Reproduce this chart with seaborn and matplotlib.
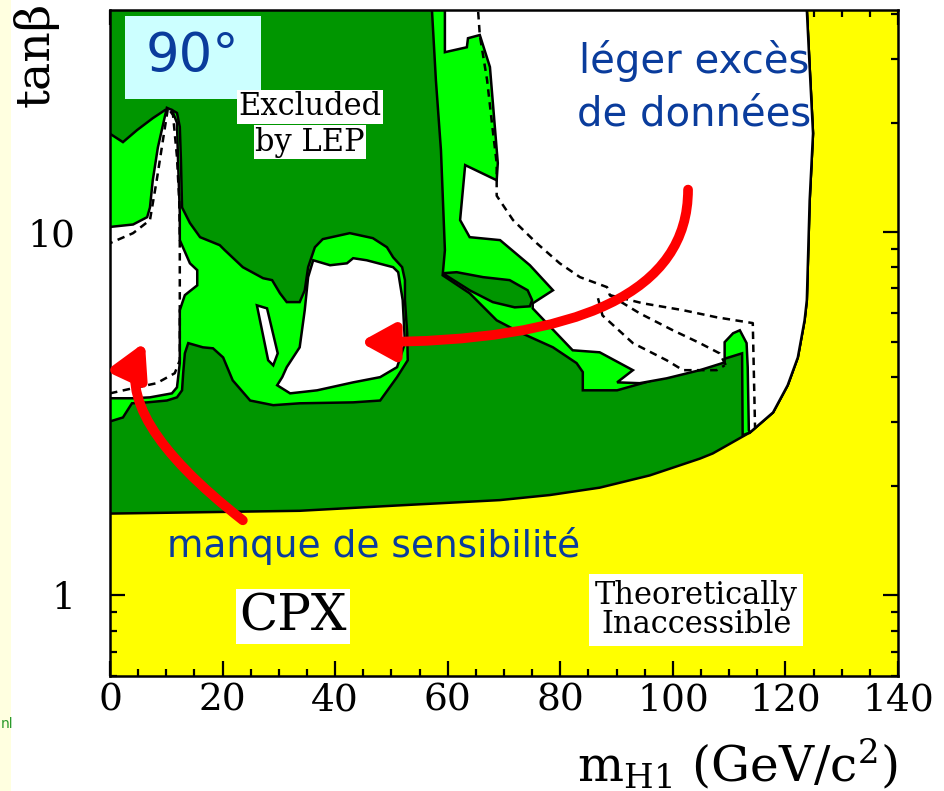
import numpy as np
import matplotlib
matplotlib.use('Agg')
import matplotlib.pyplot as plt
import seaborn as sns
from matplotlib.patches import Rectangle
from matplotlib.ticker import LogLocator, NullFormatter, MultipleLocator

# region boundaries: (m_H1 [GeV/c2], tan beta)
theory = [(-1, 1.68), (0, 1.68), (33.7, 1.71), (51.5, 1.77), (69.3, 1.83), (78.2, 1.89),
          (87.0, 1.98), (95.9, 2.14), (104.8, 2.38), (107.1, 2.46), (113.7, 2.81),
          (117.8, 3.19), (120.4, 3.79), (122.2, 4.52), (123.4, 5.72), (123.8, 6.50),
          (124.3, 12.2), (124.9, 18.7), (124.3, 28.5), (123.8, 40.9), (123.8, 45), (-1, 45)]

lg_right = [(57.2, 45), (57.2, 40.9), (57.9, 26.2), (58.8, 16.8), (59.5, 8.92), (59.1, 7.61),
            (63.9, 6.79), (68.7, 5.72), (72.8, 5.30), (78.7, 4.82), (82.9, 4.36), (84.0, 4.12),
            (84.0, 3.67), (90.1, 3.67), (96.4, 3.91), (102.5, 4.17), (108.3, 4.44), (112.3, 4.64),
            (112.4, 2.76), (113.7, 2.81), (117.8, 3.19), (120.4, 3.79), (122.2, 4.52),
            (123.4, 5.72), (123.8, 6.50), (124.3, 12.2), (124.9, 18.7), (124.3, 28.5),
            (123.8, 40.9), (123.8, 45)]

island = [(59.1, 7.71), (61.6, 7.76), (66.3, 7.52), (71.0, 7.38), (74.2, 6.92), (75.0, 6.50),
          (74.6, 6.25), (71.9, 6.21), (68.0, 6.42), (63.9, 6.92)]

w_right = [(59.5, 45), (123.8, 45), (123.8, 40.9), (124.3, 28.5), (124.9, 18.7), (124.3, 12.2),
           (123.8, 6.50), (123.4, 5.72), (122.2, 4.52), (120.4, 3.79), (117.8, 3.19),
           (113.7, 2.81), (113.5, 2.85), (113.3, 4.25), (113.1, 4.95), (111.9, 5.37),
           (110.7, 5.27), (109.2, 4.98), (109.2, 4.38), (104.8, 4.17), (98.9, 3.96), (94.1, 3.84),
           (90.1, 3.86), (92.9, 4.17), (87.0, 4.67), (82.2, 4.73), (75.1, 6.17), (75.1, 6.37),
           (78.7, 6.92), (74.6, 8.11), (69.3, 9.51), (63.9, 9.69), (62.2, 10.8), (63.1, 15.3),
           (68.7, 13.9), (68.9, 15.5), (67.5, 28.5), (65.7, 34.9), (63.6, 34.2), (63.4, 32.3),
           (59.5, 31.3)]

lg_left = [(-1, 19.1), (2.3, 17.7), (4.8, 19.1), (7.6, 20.6), (9.8, 21.7), (11.0, 21.7),
           (11.9, 21.3), (12.4, 19.5), (12.6, 15.8), (12.8, 11.7), (14.2, 10.6), (16.0, 9.69),
           (19.5, 9.21), (20.4, 8.92), (23.6, 8.01), (27.2, 7.47), (28.8, 7.38), (30.2, 6.79),
           (31.4, 6.42), (33.7, 6.42), (34.6, 6.92), (35.2, 8.01), (36.4, 9.09), (37.8, 9.57),
           (42.6, 9.94), (46.7, 9.63), (49.2, 9.09), (50.3, 8.53), (51.9, 8.01), (52.4, 7.38),
           (52.4, 6.50), (52.8, 5.27), (52.9, 4.44), (51.0, 3.99), (48.0, 3.44), (43.2, 3.40),
           (33.7, 3.38), (29.0, 3.34), (24.9, 3.44), (21.8, 3.91), (20.1, 4.52), (18.3, 4.79),
           (16.5, 4.82), (13.9, 4.95), (13.3, 4.64), (13.0, 4.09), (12.8, 3.67), (11.9, 3.51),
           (10.1, 3.44), (6.6, 3.40), (3.9, 3.38), (2.3, 3.09), (-1, 2.98)]

w_left = [(-1, 10.3), (4.1, 10.5), (6.6, 11.0), (7.1, 11.7), (7.6, 13.9), (8.5, 17.1),
          (9.8, 21.0), (10.1, 22.0), (11.0, 21.7), (11.9, 20.0), (12.1, 15.5), (12.4, 11.3),
          (12.4, 9.51), (14.2, 8.21), (15.5, 7.86), (15.5, 7.14), (13.3, 6.71), (12.4, 6.10),
          (12.4, 4.73), (12.4, 4.36), (11.9, 3.74), (11.0, 3.60), (7.1, 3.51), (4.1, 3.49),
          (-1, 3.49)]

w_mid = [(36.1, 8.37), (39.1, 8.11), (42.1, 8.21), (43.2, 8.48), (45.6, 8.37), (50.3, 8.01),
         (51.2, 7.76), (52.0, 6.50), (52.4, 4.95), (51.0, 4.25), (48.0, 3.99), (43.2, 3.86),
         (36.8, 3.67), (32.0, 3.60), (29.7, 3.79), (30.6, 3.99), (31.4, 4.25), (33.7, 4.82),
         (34.6, 6.10), (35.2, 7.52)]

w_sliver = [(26.1, 6.29), (27.9, 6.17), (29.8, 4.64), (29.0, 4.30), (28.1, 4.44)]

# dashed (expected) contours
dash_left = [(0, 3.60), (4.1, 3.72), (8.3, 3.84), (11.5, 4.09), (12.4, 4.44), (12.4, 6.50),
             (12.4, 9.51), (12.3, 12.2), (11.9, 16.1), (11.2, 21.0), (10.3, 22.0), (9.2, 17.1),
             (8.3, 13.9), (7.1, 10.8), (4.1, 9.94), (0, 9.33)]
dash_top = [(65.2, 45), (65.7, 34.9), (67.0, 26.2), (68.0, 19.1), (68.7, 15.5), (68.7, 12.6),
            (71.6, 10.8), (75.8, 9.33), (79.9, 8.21), (83.5, 7.52), (88.3, 7.06), (88.8, 6.71),
            (94.7, 6.37), (101.8, 6.10), (107.8, 5.83), (114.2, 5.62), (114.6, 2.90)]
dash_mid = [(88.8, 6.71), (94.1, 5.98), (100.0, 5.37), (104.8, 4.95), (108.3, 4.64), (109.6, 4.25)]
dash_low = [(86.7, 6.58), (87.5, 5.9), (92.9, 4.95), (98.9, 4.44), (101.8, 4.17), (107.8, 4.17),
            (109.2, 4.30)]

# arrows: (tail, tip) in data units
arrow_excess = ((102.7, 13.1), (44.4, 4.98))
arrow_sens = ((23.6, 1.61), (6.2, 4.98))

x_ticks = [0, 20, 40, 60, 80, 100, 120, 140]
y_ticks = [1, 10]
y_labels = ['1', '10']

YELLOW = '#ffff00'
DARK = '#009600'
LIGHT = '#00ff00'
BLUE = '#0a3c9c'

sns.set_style('ticks')
plt.rcParams['font.family'] = ['DejaVu Serif']
plt.rcParams['mathtext.fontset'] = 'dejavuserif'
plt.rcParams['text.color'] = 'black'
plt.rcParams['xtick.color'] = 'black'
plt.rcParams['ytick.color'] = 'black'
plt.rcParams['xtick.labelcolor'] = 'black'
plt.rcParams['ytick.labelcolor'] = 'black'

fig = plt.figure(figsize=(9.44, 7.91), dpi=100)
fig.patches.append(Rectangle((0, 0), 11 / 944, 1, transform=fig.transFigure,
                             facecolor='#ffffe0', edgecolor='none', zorder=0))
fig.text(1 / 944, 0.08, 'nl', color='#2a9a2a', fontsize=10, ha='left',
         family='DejaVu Sans')

ax = fig.add_axes([110 / 944, 115 / 791, 788 / 944, 666 / 791])
ax.set_facecolor(YELLOW)
ax.set_yscale('log')


def region(pts, color):
    xs, ys = zip(*pts)
    ax.fill(xs, ys, facecolor=color, edgecolor='black', linewidth=1.8)


region(theory, DARK)
region(lg_right, LIGHT)
region(island, DARK)
region(w_right, 'white')
region(lg_left, LIGHT)
region(w_left, 'white')
region(w_mid, 'white')
region(w_sliver, 'white')

for line in [dash_left, dash_top, dash_mid, dash_low]:
    xs, ys = zip(*line)
    sns.lineplot(x=list(xs), y=list(ys), sort=False, estimator=None, ax=ax,
                 color='black', linewidth=1.8, linestyle=(0, (3, 2.2)))

ax.set_xlim(0, 140)
ax.set_ylim(0.6, 40.9)
ax.set_xlabel('')
ax.set_ylabel('')

ax.set_xticks(x_ticks)
ax.set_xticklabels([str(v) for v in x_ticks])
ax.xaxis.set_minor_locator(MultipleLocator(5))
ax.set_yticks(y_ticks)
ax.set_yticklabels(y_labels)
ax.yaxis.set_minor_locator(LogLocator(base=10, subs=np.arange(2, 10)))
ax.yaxis.set_minor_formatter(NullFormatter())
ax.tick_params(which='both', direction='in', top=True, right=True, width=1.6, color='black')
ax.tick_params(which='major', length=11, labelsize=27)
ax.tick_params(which='minor', length=5)
ax.tick_params(axis='x', pad=5)
ax.tick_params(axis='y', pad=25)
for s in ax.spines.values():
    s.set_linewidth(1.8)
    s.set_color('black')
    s.set_zorder(5)

fig.text(897 / 944, 10 / 791, r'$\mathrm{m_{H1}\ (GeV/c^{2})}$', fontsize=35,
         ha='right', va='baseline')
fig.text(36 / 944, 1 - 2 / 791, 'tanβ', fontsize=34, rotation=90, ha='center', va='top')

# labels inside the plot
ax.add_patch(Rectangle((0.019, 0.866), 0.173, 0.125, transform=ax.transAxes,
                       facecolor='#ccffff', edgecolor='none', zorder=4))
ax.text(0.104, 0.931, '90°', transform=ax.transAxes, fontsize=38, color=BLUE,
        family='DejaVu Sans', ha='center', va='center', zorder=6)

box = dict(facecolor='white', edgecolor='none', pad=1)
ax.text(0.254, 0.842, 'Excluded', transform=ax.transAxes, fontsize=22, ha='center',
        va='baseline', bbox=box, zorder=6)
ax.text(0.254, 0.789, 'by LEP', transform=ax.transAxes, fontsize=22, ha='center',
        va='baseline', bbox=box, zorder=6)
ax.text(0.744, 0.099, 'Theoretically\nInaccessible', transform=ax.transAxes, fontsize=22,
        ha='center', va='center', linespacing=0.95, bbox=dict(facecolor='white',
        edgecolor='none', pad=4), zorder=6)
ax.text(0.232, 0.089, 'CPX', transform=ax.transAxes, fontsize=36, ha='center',
        va='center', bbox=dict(facecolor='white', edgecolor='none', pad=2), zorder=6)

ax.text(0.741, 0.905, 'léger excès', transform=ax.transAxes, fontsize=29, color=BLUE,
        family='DejaVu Sans', ha='center', va='baseline', zorder=6)
ax.text(0.741, 0.827, 'de données', transform=ax.transAxes, fontsize=29, color=BLUE,
        family='DejaVu Sans', ha='center', va='baseline', zorder=6)
ax.text(0.335, 0.179, 'manque de sensibilité', transform=ax.transAxes, fontsize=27,
        color=BLUE, family='DejaVu Sans', ha='center', va='baseline', zorder=6)

arrow_kw = dict(arrowstyle='-|>,head_length=1.0,head_width=0.55', color='red', lw=7,
                mutation_scale=20, shrinkA=0, shrinkB=0)
ax.annotate('', xy=arrow_excess[1], xytext=arrow_excess[0],
            arrowprops=dict(connectionstyle='angle3,angleA=90,angleB=0', **arrow_kw),
            zorder=7)
ax.annotate('', xy=arrow_sens[1], xytext=arrow_sens[0],
            arrowprops=dict(connectionstyle='angle3,angleA=142,angleB=65', **arrow_kw),
            zorder=7)

fig.savefig('out.png', dpi=100)
